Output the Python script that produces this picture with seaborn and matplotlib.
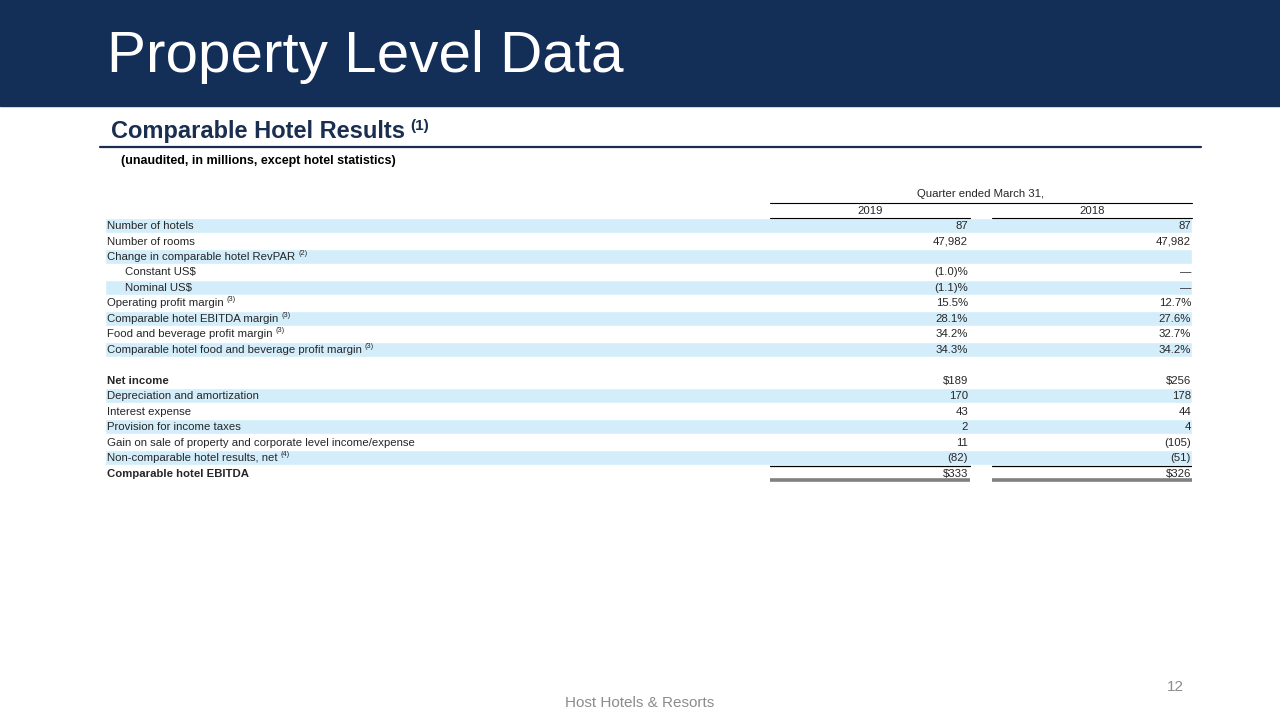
import matplotlib
matplotlib.use("Agg")
import matplotlib.pyplot as plt
import seaborn as sns

sns.set_theme(style="white")
plt.rcParams['font.family'] = ['Liberation Sans', 'DejaVu Sans']

# table content
labels = ["Number of hotels", "Number of rooms", "Change in comparable hotel RevPAR",
          "Constant US$", "Nominal US$", "Operating profit margin",
          "Comparable hotel EBITDA margin", "Food and beverage profit margin",
          "Comparable hotel food and beverage profit margin", "",
          "Net income", "Depreciation and amortization", "Interest expense",
          "Provision for income taxes",
          "Gain on sale of property and corporate level income/expense",
          "Non-comparable hotel results, net", "Comparable hotel EBITDA"]
values_2019 = ["87", "47,982", "", "(1.0)%", "(1.1)%", "15.5%", "28.1%", "34.2%",
               "34.3%", "", "$189", "170", "43", "2", "11", "(82)", "$333"]
values_2018 = ["87", "47,982", "", "\u2014", "\u2014", "12.7%", "27.6%", "32.7%",
               "34.2%", "", "$256", "178", "44", "4", "(105)", "(51)", "$326"]
footnotes = ["", "", "(2)", "", "", "(3)", "(3)", "(3)", "(3)", "", "", "", "", "", "", "(4)", ""]
bold_rows = [10, 16]
indent_rows = [3, 4]
shaded_rows = [0, 2, 4, 6, 8, 11, 13, 15]
col_years = ["2019", "2018"]

navy = "#132E57"
shade = "#D3EEFA"

fig = plt.figure(figsize=(12.8, 7.2), dpi=100)

# full-slide axes in pixel units
base = fig.add_axes([0, 0, 1, 1])
base.set_xlim(0, 1280)
base.set_ylim(720, 0)
base.axis("off")

base.axhspan(0, 106, color=navy, zorder=0)
base.text(107, 72, "Property Level Data", color="white", fontsize=42,
          va="baseline", ha="left")

sub = base.text(111, 138, "Comparable Hotel Results", color="#1A2E4F", fontsize=17,
                fontweight="bold", va="baseline", ha="left")
base.plot([100, 1201], [146.5, 146.5], color="#1A2E4F", lw=1.6)
base.text(121, 161, "(unaudited, in millions, except hotel statistics)", color="black",
          fontsize=9, fontweight="bold", va="center", ha="left")

# column headers
base.text(981, 194, "Quarter ended March 31,", fontsize=8.2, ha="center", va="center")
base.plot([770, 1192], [202.5, 202.5], color="black", lw=0.8)
col_right = [968, 1191]
col_left = [770, 992]
col_end = [970, 1192]
for yr, l, r in zip(col_years, col_left, col_end):
    base.text((l + r) / 2, 211, yr, fontsize=8.2, ha="center", va="center")

base.text(640, 703, "Host Hotels & Resorts", color="#8C8C8C", fontsize=11,
          ha="center", va="center")
base.text(1175, 687, "12", color="#8C8C8C", fontsize=11, ha="center", va="center")

# table axes: rows in index units
n = len(labels)
tx0, tx1, ty0, ty1 = 105, 1192, 218, 481
ax = fig.add_axes([tx0 / 1280, (720 - ty1) / 720, (tx1 - tx0) / 1280, (ty1 - ty0) / 720])
ax.set_xlim(tx0, tx1)
ax.set_ylim(n, 0)
ax.axis("off")

ax.barh([i + 0.5 for i in shaded_rows], tx1 - tx0, left=tx0, height=0.96,
        color=shade, zorder=0)

fig.canvas.draw()
renderer = fig.canvas.get_renderer()
inv = ax.transData.inverted()

for i, lab in enumerate(labels):
    y = i + 0.52
    x = 125 if i in indent_rows else 107
    w = "bold" if i in bold_rows else "normal"
    t = ax.text(x, y, lab, fontsize=8.2, fontweight=w, ha="left", va="center")
    if footnotes[i]:
        bb = t.get_window_extent(renderer)
        xe = inv.transform((bb.x1, bb.y1))[0]
        ax.text(xe + 3, y - 0.22, footnotes[i], fontsize=5.3, ha="left", va="center")
    for vals, xr in zip([values_2019, values_2018], col_right):
        ax.text(xr, y, vals[i], fontsize=8.2, ha="right", va="center")

# superscript on subtitle
bb = sub.get_window_extent(renderer)
xe = base.transData.inverted().transform((bb.x1, bb.y1))[0]
base.text(xe + 5, 126, "(1)", color="#1A2E4F", fontsize=11, fontweight="bold",
          ha="left", va="center")

# year underlines and total lines
for l, r in zip(col_left, col_end):
    ax.plot([l, r], [0, 0], color="black", lw=0.8, clip_on=False, zorder=5)
    ax.plot([l, r], [n - 1, n - 1], color="black", lw=0.9)
    ax.plot([l, r], [n - 0.08, n - 0.08], color="#808080", lw=2.6, solid_capstyle="butt",
            clip_on=False)

fig.savefig("out.png", dpi=100)
